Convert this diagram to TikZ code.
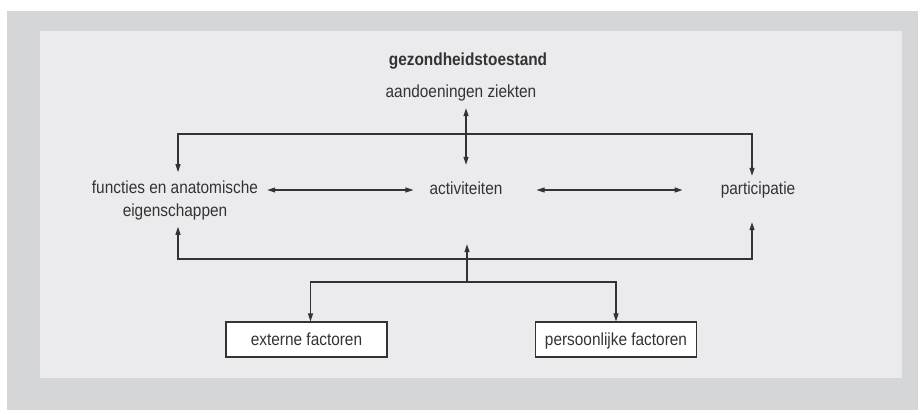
\documentclass[tikz,border=0pt]{standalone}
\usepackage{fontspec}
\setmainfont{Liberation Sans}[FakeStretch=0.88]
\usetikzlibrary{arrows.meta,positioning,calc}
\definecolor{frame}{HTML}{D5D6D8}
\definecolor{panel}{HTML}{EBEBED}
\definecolor{ink}{HTML}{333333}

\begin{document}
\begin{tikzpicture}[
  x=1pt, y=-1pt,
  font=\fontsize{17.5}{23}\selectfont,
  lbl/.style={text=ink, inner sep=0pt, text height=12pt, text depth=4pt},
  multi/.style={text=ink, inner sep=0pt, align=center},
  box/.style={draw=ink, fill=white, line width=1.1pt, text=ink, inner sep=0pt,
              minimum width=161pt, minimum height=35pt,
              text height=12pt, text depth=0pt},
  tip/.tip={Triangle[length=8pt, width=5pt]},
  arr/.style={-tip, draw=ink, line width=1.1pt},
  dbl/.style={tip-tip, draw=ink, line width=1.1pt},
]
\useasboundingbox (0,0) rectangle (918,410);
% frame and panel
\fill[frame] (7,11) rectangle (918,410);
\fill[panel] (40,31) rectangle (902,378);

% components
\node[lbl] (ziek) at (461,93) {aandoeningen ziekten};
\node[lbl, font=\fontsize{17.5}{23}\selectfont\bfseries, above=15pt of ziek, xshift=7pt]
  (state) {gezondheidstoestand};
\node[lbl] (act) at (466,190) {activiteiten};
\node[multi, anchor=base] (func) at (175,216) {functies en anatomische\\eigenschappen};
\node[lbl] (part) at (758,190) {participatie};
\node[box] (ext) at (306.5,339.5) {externe factoren};
\node[box] (pers) at (616,339.5) {persoonlijke factoren};

\coordinate (topbar) at (467,134);
\coordinate (botbar) at (467,259);
\coordinate (split) at (467,282);

% interactions
\draw[dbl, shorten <=7pt, shorten >=17pt] (act.north |- ziek.south) -- (act.north);
\draw[dbl, shorten <=9pt, shorten >=16pt] (func.east |- act) -- (act.west);
\draw[dbl, shorten <=34pt, shorten >=38pt] (act.east) -- (part.west);
\draw[arr, shorten >=8pt] (topbar) -| ([xshift=3pt]func.north);
\draw[arr, shorten >=6pt] (topbar) -| ([xshift=-6pt]part.north);
\draw[arr, shorten >=7pt] (botbar) -| ([xshift=3pt]func.south);
\draw[arr, shorten >=24pt] (botbar) -| ([xshift=-6pt]part.south);
\draw[arr, shorten >=46pt] (split) -- (split |- act.south);
\draw[arr] (split) -| ([xshift=4pt]ext.north);
\draw[arr] (split) -| (pers.north);
\end{tikzpicture}
\end{document}
